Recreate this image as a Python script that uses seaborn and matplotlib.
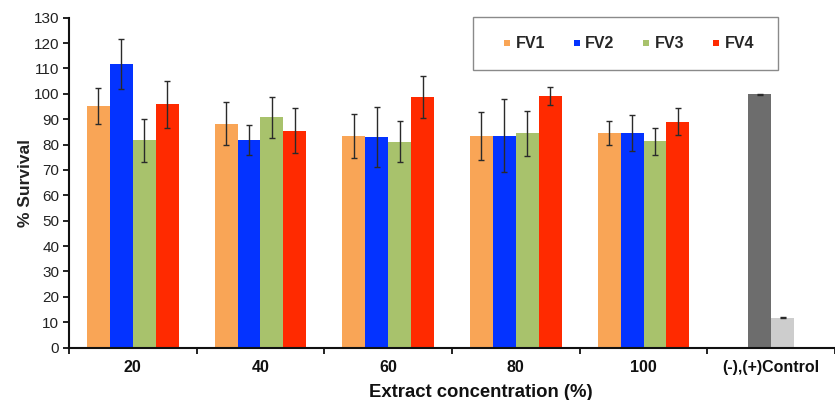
import matplotlib
matplotlib.use("Agg")
import matplotlib.pyplot as plt
from matplotlib.lines import Line2D
from matplotlib.patches import Rectangle
import seaborn as sns
import pandas as pd

# Concentrations tested plus the control group
categories = ["20", "40", "60", "80", "100", "(-),(+)Control"]
extracts = ["FV1", "FV2", "FV3", "FV4"]

# Mean % survival per extract across the five concentrations
fv1 = [95.1, 88.2, 83.2, 83.4, 84.6]
fv2 = [111.7, 81.9, 82.9, 83.4, 84.6]
fv3 = [81.7, 90.7, 81.2, 84.5, 81.3]
fv4 = [95.8, 85.5, 98.9, 99.1, 89.0]

# Standard deviations
fv1_err = [7.0, 8.5, 8.7, 9.6, 4.7]
fv2_err = [10.0, 6.0, 11.8, 14.4, 7.0]
fv3_err = [8.5, 8.0, 8.1, 8.9, 5.3]
fv4_err = [9.2, 8.9, 8.3, 3.4, 5.4]

# Negative and positive controls
controls = ["(-)", "(+)"]
control_vals = [99.8, 11.8]
control_err = [0.3, 0.3]

colors = ["#F9A556", "#0433FF", "#A8C26C", "#FF2A00"]
control_colors = ["#6D6D6D", "#CDCDCD"]

sns.set_theme(style="white")
plt.rcParams["font.family"] = ["Liberation Sans", "DejaVu Sans"]

rows = []
for name, vals in zip(extracts, [fv1, fv2, fv3, fv4]):
    for cat, v in zip(categories[:5], vals):
        rows.append({"conc": cat, "extract": name, "survival": v})
df = pd.DataFrame(rows)
df_ctrl = pd.DataFrame({"conc": [categories[5]] * 2, "group": controls,
                        "survival": control_vals})

fig = plt.figure(figsize=(8.35, 4.0), dpi=100)
ax = fig.add_axes([69 / 835, 52.5 / 400, 766 / 835, 329.8 / 400])

sns.barplot(data=df, x="conc", y="survival", hue="extract", order=categories,
            hue_order=extracts, palette=colors, width=0.72, saturation=1,
            errorbar=None, legend=False, linewidth=0, ax=ax)
sns.barplot(data=df_ctrl, x="conc", y="survival", hue="group", order=categories,
            hue_order=controls, palette=control_colors, width=0.36, saturation=1,
            errorbar=None, legend=False, linewidth=0, ax=ax)

# Error bars placed on the bar centres
all_vals = [fv1, fv2, fv3, fv4] + [[v] for v in control_vals]
all_errs = [fv1_err, fv2_err, fv3_err, fv4_err] + [[e] for e in control_err]
for cont, vals, errs in zip(ax.containers, all_vals, all_errs):
    xs = [p.get_x() + p.get_width() / 2 for p in cont.patches if p.get_height() > 0]
    ax.errorbar(xs, vals, yerr=errs, fmt="none", ecolor="#2a2a2a",
                elinewidth=1.0, capsize=2.2, capthick=1.0, zorder=5)

ax.set_ylim(0, 130)
ax.set_yticks(range(0, 131, 10))
ax.set_xlim(-0.5, -0.5 + 766 / 129.2)
ax.set_xticks(range(len(categories)))
ax.set_xticklabels(categories, fontweight="bold", fontsize=11.5, color="#111111")
ax.set_xticks([i - 0.5 for i in range(len(categories) + 1)], minor=True)
ax.tick_params(axis="x", which="major", length=0, pad=9)
ax.tick_params(axis="x", which="minor", length=4, width=1.3, color="#111111",
               direction="out", bottom=True)
ax.tick_params(axis="y", length=4, width=1.3, color="#111111", direction="out",
               left=True, labelsize=11, labelcolor="#222222", pad=3)

for s in ["top", "right"]:
    ax.spines[s].set_visible(False)
for s in ["left", "bottom"]:
    ax.spines[s].set_color("#111111")
    ax.spines[s].set_linewidth(1.5)

ax.set_ylabel("% Survival", fontsize=12.5, fontweight="bold", color="#222222")
ax.yaxis.set_label_coords(-0.047, 0.5)
ax.set_xlabel("Extract concentration (%)", fontsize=13.3, fontweight="bold",
              color="#111111")
ax.xaxis.set_label_coords(0.537, -0.112)

# Legend panel
fig.patches.append(Rectangle((473 / 835, 1 - 70 / 400), 305 / 835, 53 / 400,
                             transform=fig.transFigure, facecolor="white",
                             edgecolor="#8a8a8a", linewidth=1.0, zorder=3))
handles = [Line2D([], [], marker="s", linestyle="none", markersize=4,
                  markerfacecolor=c, markeredgewidth=0) for c in colors]
leg = fig.legend(handles, extracts, ncol=4, frameon=False, loc="center",
                 bbox_to_anchor=(629 / 835, 1 - 44 / 400),
                 prop={"weight": "bold", "size": 11.5}, handlelength=0.4,
                 handletextpad=0.35, columnspacing=1.78)
leg.set_zorder(4)

fig.savefig("out.png", dpi=100)
